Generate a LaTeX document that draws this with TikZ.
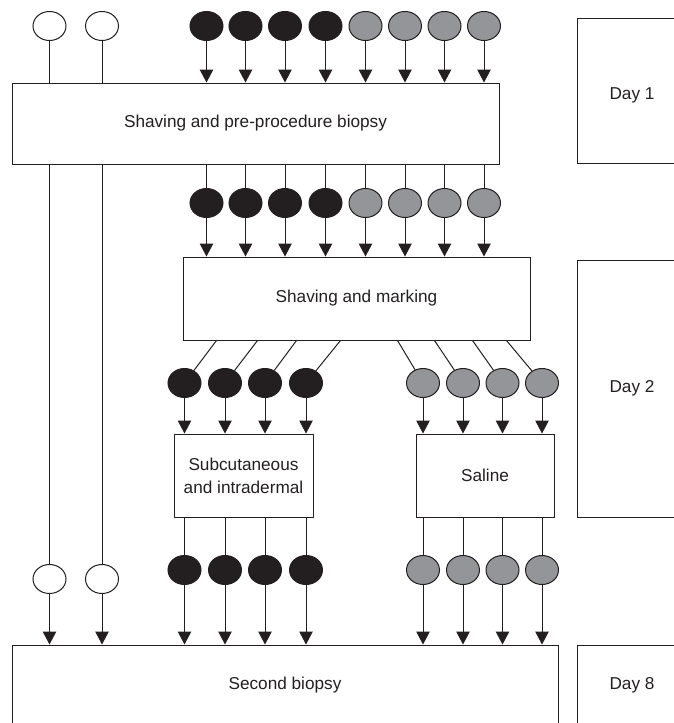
\documentclass[tikz,border=0pt]{standalone}
\usepackage{fontspec}
\setmainfont{Liberation Sans}
\usetikzlibrary{shapes.geometric,arrows.meta}
\definecolor{inkblack}{HTML}{231F20}
\definecolor{inkgray}{HTML}{939598}
\tikzset{
         stepbox/.style={rectangle,draw=inkblack,line width=1pt,text=inkblack,align=center,
                         font=\fontsize{17.2}{23}\selectfont,inner sep=0pt},
         daybox/.style={stepbox,minimum width=110pt},
         grp/.style={ellipse,draw=inkblack,line width=1pt,minimum width=33pt,minimum height=29pt,inner sep=0pt},
         ctrlgrp/.style={grp,fill=white},
         drugrp/.style={grp,fill=inkblack},
         salgrp/.style={grp,fill=inkgray},
         link/.style={draw=inkblack,line width=1pt},
         feed/.style={link,-{Triangle[width=13.5pt,length=13pt]}}
        }
\begin{document}
\begin{tikzpicture}[x=1pt,y=-1pt]
\useasboundingbox(0,0)rectangle(673,723);
%day columns
\node[daybox,minimum height=145pt,text height=17pt,text depth=0pt](day1)at(632,90.5){Day 1};
\node[daybox,minimum height=257pt](day2)at(632,388.5){Day 2};
\node[daybox,minimum height=80pt](day8)at(632,685){Day 8};
%procedure boxes
\node[stepbox,minimum width=487pt,minimum height=81pt](pre)at(255.5,123.5){Shaving and pre-procedure biopsy};
\node[stepbox,minimum width=347pt,minimum height=83pt](mark)at(356.5,298.5){Shaving and marking};
\node[stepbox,minimum width=139pt,minimum height=83pt](sub)at(243.5,475.5){Subcutaneous\\and intradermal};
\node[stepbox,minimum width=138pt,minimum height=83pt](sal)at(485,475.5){Saline};
\node[stepbox,minimum width=546pt,minimum height=80pt](second)at(285,685){Second biopsy};
%control groups, biopsy only
\foreach \i/\x in {1/49.5,2/102}{
  \node[ctrlgrp](ca\i)at(\x,26){};
  \node[ctrlgrp](cd\i)at(\x,579){};
  \draw[link](ca\i)--(ca\i |- pre.north);
  \draw[link](ca\i |- pre.south)--(cd\i);
  \draw[feed](cd\i)--(cd\i |- second.north);
}
%day 1 and marking
\foreach \i/\x/\s in {1/206.5/drugrp,2/245.5/drugrp,3/285/drugrp,4/325.5/drugrp,
                      5/365.5/salgrp,6/405/salgrp,7/444.5/salgrp,8/484/salgrp}{
  \node[\s](a\i)at(\x,26){};
  \node[\s](b\i)at(\x,203){};
  \draw[feed](a\i)--(a\i |- pre.north);
  \draw[link](b\i |- pre.south)--(b\i);
  \draw[feed](b\i)--(b\i |- mark.north);
}
%injections and second biopsy
\foreach \i/\x/\dx/\s/\t in {1/184.5/34/drugrp/sub,2/225/75/drugrp/sub,3/265/114/drugrp/sub,4/306/158/drugrp/sub,
                             5/423/215/salgrp/sal,6/463/252/salgrp/sal,7/502.5/290/salgrp/sal,8/542/324/salgrp/sal}{
  \node[\s](c\i)at(\x,383){};
  \node[\s](d\i)at(\x,570){};
  \draw[link]([xshift=\dx]mark.south west)--(c\i);
  \draw[feed](c\i)--(c\i |- \t.north);
  \draw[link](c\i |- \t.south)--(d\i);
  \draw[feed](d\i)--(d\i |- second.north);
}
\end{tikzpicture}
\end{document}
